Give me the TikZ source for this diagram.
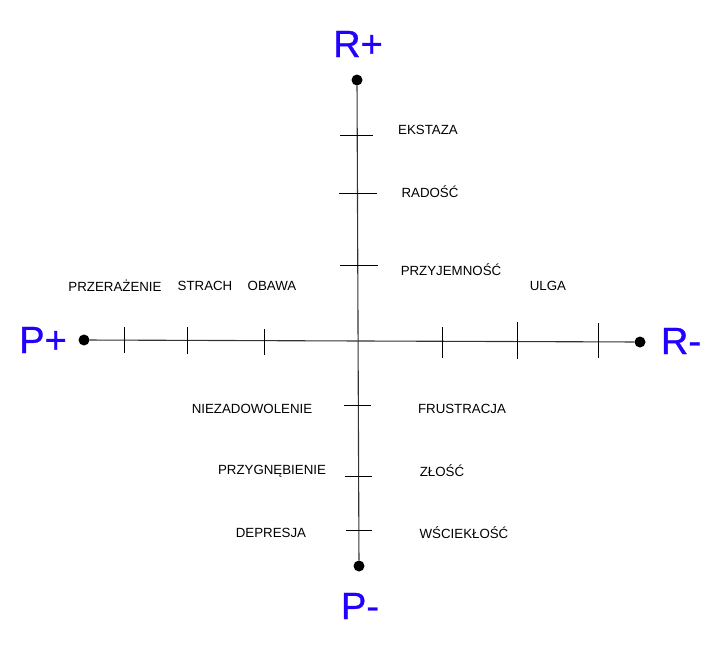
\documentclass[tikz,border=0pt]{standalone}
\usepackage{fontspec}
\setmainfont{Liberation Sans}
\usepackage{xcolor}
\usepackage{tikz}
\usetikzlibrary{positioning}
\definecolor{Pole}{HTML}{2200FF}
\definecolor{Axis}{HTML}{333333}

\begin{document}
\begin{tikzpicture}[
  x=1pt, y=-1pt,
  pole/.style={text=Pole, font=\fontsize{38}{40}\selectfont\addfontfeature{FakeBold=0.8}, inner sep=0pt},
  emo/.style={font=\fontsize{13.3}{15}\selectfont, inner sep=0pt},
  dot/.style={circle, fill=black, inner sep=0pt, minimum size=11pt},
  axis/.style={draw=Axis, line width=1.1pt},
  tickmark/.style={draw=black, line width=0.9pt}
]
\useasboundingbox (0,0) rectangle (726,656);

% end points of the axes
\node[dot] (top) at (357,80) {};
\node[dot] (bottom) at (359,566) {};
\node[dot] (left) at (84,340) {};
\node[dot] (right) at (640,342) {};

\node[pole] (rplus) at (358,44) {R+};
\node[pole] (pminus) at (360,606) {P-};
\node[pole] (pplus) at (43,340) {P+};
\node[pole] (rminus) at (681,341) {R-};

\draw[axis] (top) -- (bottom);
\draw[axis] (left) -- (right);

% ticks
\foreach \x/\ya/\yb in {124/327/353, 187/327/354, 264/329/355, 442/327/358, 517/322/359, 598/323/358}
  \draw[tickmark] (\x,\ya) -- (\x,\yb);
\foreach \y/\xa/\xb in {135/340/373, 193/339/377, 265/340/378, 405/344/371, 476/345/372, 530/346/372}
  \draw[tickmark] (\xa,\y) -- (\xb,\y);

% emotions
\node[emo] (ekstaza) at (428,130) {EKSTAZA};
\node[emo] (radosc) at (430,192) {RADOŚĆ};
\node[emo] (przyjemnosc) at (451,270) {PRZYJEMNOŚĆ};
\node[emo] (ulga) at (548,286) {ULGA};
\node[emo] (przerazenie) at (115,286) {PRZERAŻENIE};
\node[emo] (strach) at (205,286) {STRACH};
\node[emo] (obawa) at (272,286) {OBAWA};
\node[emo] (niezadowolenie) at (252,409) {NIEZADOWOLENIE};
\node[emo] (frustracja) at (462,409) {FRUSTRACJA};
\node[emo] (przygnebienie) at (272,471) {PRZYGNĘBIENIE};
\node[emo] (zlosc) at (442,471) {ZŁOŚĆ};
\node[emo] (depresja) at (271,533) {DEPRESJA};
\node[emo] (wscieklosc) at (464,533) {WŚCIEKŁOŚĆ};
\end{tikzpicture}
\end{document}
